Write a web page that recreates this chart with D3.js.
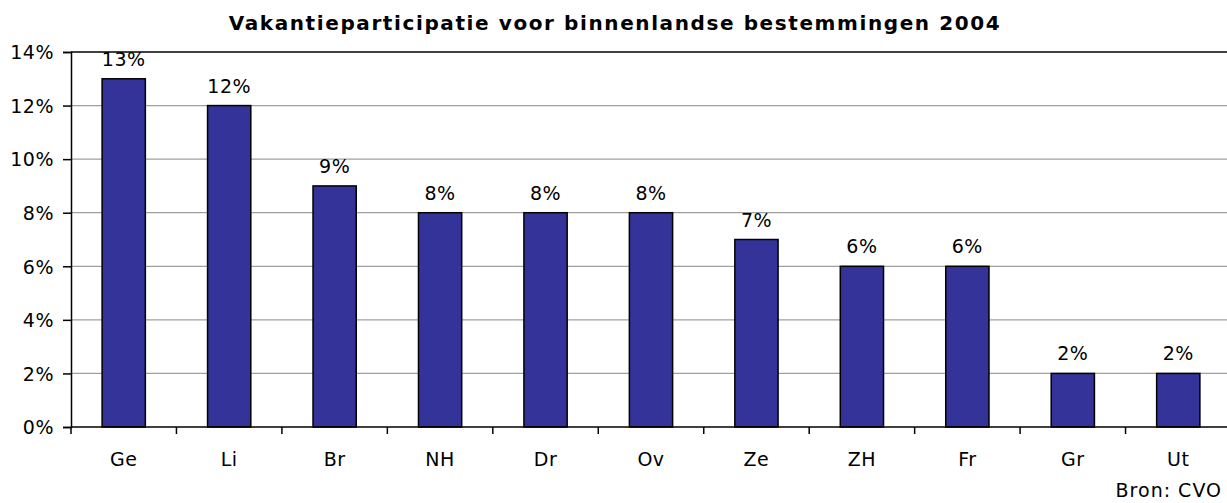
<!DOCTYPE html>
<html>
<head>
<meta charset="utf-8">
<script src="https://cdn.jsdelivr.net/npm/d3@7"></script>
<style>
  body { margin: 0; background: #fff; }
  text { font-family: "DejaVu Sans", Verdana, sans-serif; fill: #000; }
</style>
</head>
<body>
<div id="chart"></div>
<script>
// provincies en aandeel vakanties (%)
const categories = ['Ge', 'Li', 'Br', 'NH', 'Dr', 'Ov', 'Ze', 'ZH', 'Fr', 'Gr', 'Ut'];
const values = [13, 12, 9, 8, 8, 8, 7, 6, 6, 2, 2];
const yTicks = [0, 2, 4, 6, 8, 10, 12, 14];
const title = 'Vakantieparticipatie voor binnenlandse bestemmingen 2004';
const source = 'Bron: CVO';

const width = 1227, height = 503;
const margin = { top: 52, right: -4, bottom: 76, left: 71 };
const fontSize = '19px';

const svg = d3.select('#chart').append('svg')
    .attr('width', width)
    .attr('height', height);

const x = d3.scaleBand()
    .domain(categories)
    .range([margin.left, width - margin.right])
    .paddingInner(0.59)
    .paddingOuter(0.295);

const y = d3.scaleLinear()
    .domain([0, 14])
    .range([height - margin.bottom, margin.top]);

// rasterlijnen
svg.append('g')
    .selectAll('line')
    .data(yTicks.filter(d => d > 0))
    .join('line')
    .attr('x1', margin.left)
    .attr('x2', width)
    .attr('y1', d => y(d))
    .attr('y2', d => y(d))
    .attr('stroke', d => d === 14 ? '#000' : '#a0a0a0')
    .attr('stroke-width', d => d === 14 ? 1.5 : 1.2);

// balken
svg.append('g')
    .selectAll('rect')
    .data(values)
    .join('rect')
    .attr('x', (d, i) => x(categories[i]))
    .attr('y', d => y(d))
    .attr('width', x.bandwidth())
    .attr('height', d => y(0) - y(d))
    .attr('fill', '#333399')
    .attr('stroke', '#000')
    .attr('stroke-width', 1.5);

// waardelabels
svg.append('g')
    .selectAll('text')
    .data(values)
    .join('text')
    .attr('x', (d, i) => x(categories[i]) + x.bandwidth() / 2)
    .attr('y', d => y(d) - 13)
    .attr('text-anchor', 'middle')
    .style('font-size', fontSize)
    .style('letter-spacing', '0.5px')
    .text(d => d + '%');

// y-as
const yAxis = svg.append('g')
    .attr('transform', `translate(${margin.left},0)`)
    .call(d3.axisLeft(y).tickValues(yTicks).tickSize(8).tickPadding(9).tickFormat(d => d + '%'));
yAxis.select('.domain').attr('stroke-width', 1.5);
yAxis.selectAll('.tick line').attr('stroke-width', 1.5);
yAxis.selectAll('.tick text')
    .style('font-size', fontSize)
    .style('letter-spacing', '0.5px')
    .attr('dy', '0.36em');

// x-as met streepjes tussen de categorieen
const xAxisG = svg.append('g')
    .attr('transform', `translate(0,${y(0)})`);
xAxisG.append('line')
    .attr('x1', margin.left)
    .attr('x2', width)
    .attr('stroke', '#000')
    .attr('stroke-width', 1.5);
const step = x.step();
xAxisG.selectAll('.sep')
    .data(categories)
    .join('line')
    .attr('class', 'sep')
    .attr('x1', (d, i) => margin.left + i * step)
    .attr('x2', (d, i) => margin.left + i * step)
    .attr('y1', 0)
    .attr('y2', 7)
    .attr('stroke', '#000')
    .attr('stroke-width', 1.5);
xAxisG.selectAll('.lbl')
    .data(categories)
    .join('text')
    .attr('class', 'lbl')
    .attr('x', d => x(d) + x.bandwidth() / 2)
    .attr('y', 39)
    .attr('text-anchor', 'middle')
    .style('font-size', fontSize)
    .style('letter-spacing', '0.5px')
    .text(d => d);

// titel
svg.append('text')
    .attr('x', 615)
    .attr('y', 30)
    .attr('text-anchor', 'middle')
    .style('font-size', '20px')
    .style('font-weight', 'bold')
    .style('letter-spacing', '1.6px')
    .text(title);

// bron
svg.append('text')
    .attr('x', width - 5)
    .attr('y', 497)
    .attr('text-anchor', 'end')
    .style('font-size', fontSize)
    .style('letter-spacing', '1px')
    .text(source);
</script>
</body>
</html>
